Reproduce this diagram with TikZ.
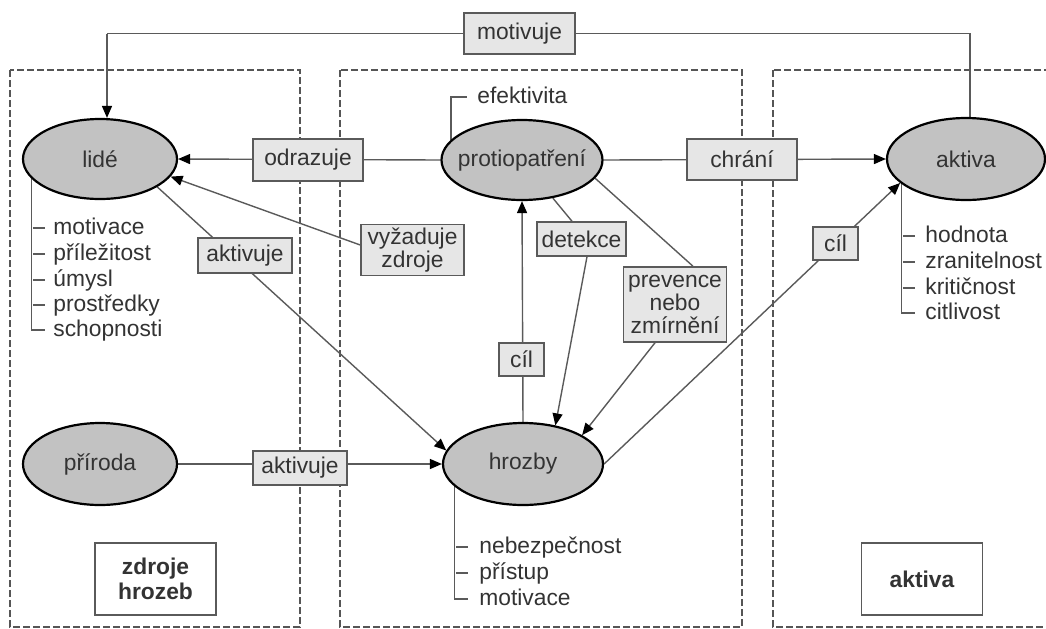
\documentclass[tikz,border=0pt]{standalone}
\usepackage{fontspec}
\setmainfont{Liberation Sans}
\usetikzlibrary{arrows.meta,shapes.geometric,backgrounds}
\definecolor{txt}{HTML}{333333}
\definecolor{ln}{HTML}{5A5A5A}
\definecolor{ellfill}{HTML}{C2C2C2}
\definecolor{boxfill}{HTML}{E6E6E6}
\definecolor{zonec}{HTML}{555555}
\begin{document}
\begin{tikzpicture}[x=0.5pt,y=-0.5pt,
  font=\fontsize{11.4}{11.4}\selectfont, text=txt,
  ell/.style={ellipse, draw=black, line width=1.1pt, fill=ellfill, inner sep=0pt, inner xsep=-14pt},
  lbl/.style={rectangle, draw=ln, line width=0.75pt, fill=boxfill, inner sep=0pt, align=center},
  ttl/.style={rectangle, draw=ln, line width=0.75pt, fill=white, inner sep=0pt, align=center,
    font=\bfseries\fontsize{11.4}{12.5}\selectfont, minimum width=60.5pt, minimum height=36pt},
  conn/.style={draw=ln, line width=0.7pt},
  arr/.style={conn, -{Triangle[length=6pt,width=5pt,color=black]}},
  zone/.style={draw=zonec, line width=0.7pt, dash pattern=on 3.5pt off 1.5pt},
  item/.style={anchor=base west, inner sep=0pt},
  brk/.style={draw=ln, line width=0.7pt}
]
\useasboundingbox (0,0) rectangle (1046,628);

% ellipses
\node[ell, minimum width=77pt, minimum height=40pt] (lide) at (100,159) {lidé};
\node[ell, minimum width=80.5pt, minimum height=40pt] (protio) at (522,160) {protiopatření};
\node[ell, minimum width=79pt, minimum height=41pt] (aktiva) at (966,159) {aktiva};
\node[ell, minimum width=77pt, minimum height=41pt] (priroda) at (100,464) {příroda};
\node[ell, minimum width=80pt, minimum height=41pt] (hrozby) at (523,464) {hrozby};

% label boxes
\node[lbl, minimum width=55.5pt, minimum height=20.5pt] (motiv) at (519.5,33.5) {motivuje};
\node[lbl, minimum width=55pt, minimum height=21pt] (odr) at (308,160) {odrazuje};
\node[lbl, minimum width=55pt, minimum height=20.5pt] (chr) at (742,159.5) {chrání};
\node[lbl, minimum width=47pt, minimum height=17.5pt] (akt1) at (245,255.5) {aktivuje};
\node[lbl, minimum width=51.5pt, minimum height=25.5pt] (vyz) at (412.5,250) {vyžaduje\\zdroje};
\node[lbl, minimum width=44.5pt, minimum height=17pt] (det) at (581.5,239) {detekce};
\node[lbl, minimum width=22.5pt, minimum height=16.5pt] (cil1) at (521.5,359.5) {cíl};
\node[lbl, minimum width=51.5pt, minimum height=37.5pt] (prev) at (675,304.5) {prevence\\nebo\\zmírnění};
\node[lbl, minimum width=22.5pt, minimum height=16.5pt] (cil2) at (835.5,243.5) {cíl};
\node[lbl, minimum width=47pt, minimum height=17pt] (akt2) at (300,468) {aktivuje};
\node[ttl] (zh) at (155.5,579) {zdroje\\hrozeb};
\node[ttl] (ak) at (922,579) {aktiva};

% attribute texts
\node[item] (efe) at (477,103) {efektivita};
\node[item] (l1) at (53,234) {motivace};
\node[item] (l2) at (53,260) {příležitost};
\node[item] (l3) at (53,286) {úmysl};
\node[item] (l4) at (53,311) {prostředky};
\node[item] (l5) at (53,336) {schopnosti};
\node[item] (a1) at (925,242) {hodnota};
\node[item] (a2) at (925,268) {zranitelnost};
\node[item] (a3) at (925,294) {kritičnost};
\node[item] (a4) at (925,319) {citlivost};
\node[item] (h1) at (479,553) {nebezpečnost};
\node[item] (h2) at (479,579) {přístup};
\node[item] (h3) at (479,605) {motivace};

\coordinate (mtR) at (970,33.5);
\coordinate (mtL) at (107,33.5);

\begin{scope}[on background layer]
  % zones
  \draw[zone] (10,70) rectangle (300,627);
  \draw[zone] (340,70) rectangle (742,627);
  \draw[zone] (773,70) rectangle (1080,627);
  % connectors
  \draw[conn] (mtR |- aktiva.north) -- (mtR) -- (mtL);
  \draw[arr] (mtL) -- (mtL |- lide.north);
  \draw[arr] (protio.west) -- (lide.east);
  \draw[arr] (protio.east) -- (aktiva.west);
  \draw[arr] ([yshift=2.5pt]vyz.west) -- (lide.-14);
  \draw[arr] (lide.-26) -- (hrozby.170);
  \draw[arr] (priroda.east) -- (hrozby.west);
  \draw[conn] (protio.-51) -- ([xshift=-4.75pt]det.north);
  \draw[arr] ([xshift=2.75pt]det.south) -- (hrozby.50);
  \draw[conn] (protio.-14) -- ([xshift=9pt]prev.north);
  \draw[arr] ([xshift=-10pt]prev.south) -- (hrozby.26);
  \draw[arr] (hrozby.north) -- (protio.south);
  \draw[arr] (hrozby.east) -- (aktiva.200);
  % brackets
  \draw[brk] (protio.164) |- (467,97);
  \draw[brk] (lide.196) |- (45,330);
  \foreach \yy in {228,254,280,305} \draw[brk] (33,\yy) -- (45,\yy);
  \draw[brk] (aktiva.201) |- (915,313);
  \foreach \yy in {236,262,288} \draw[brk] (903,\yy) -- (915,\yy);
  \draw[brk] (hrozby.198) |- (468,599);
  \foreach \yy in {547,573} \draw[brk] (456,\yy) -- (468,\yy);
\end{scope}
\end{tikzpicture}
\end{document}
